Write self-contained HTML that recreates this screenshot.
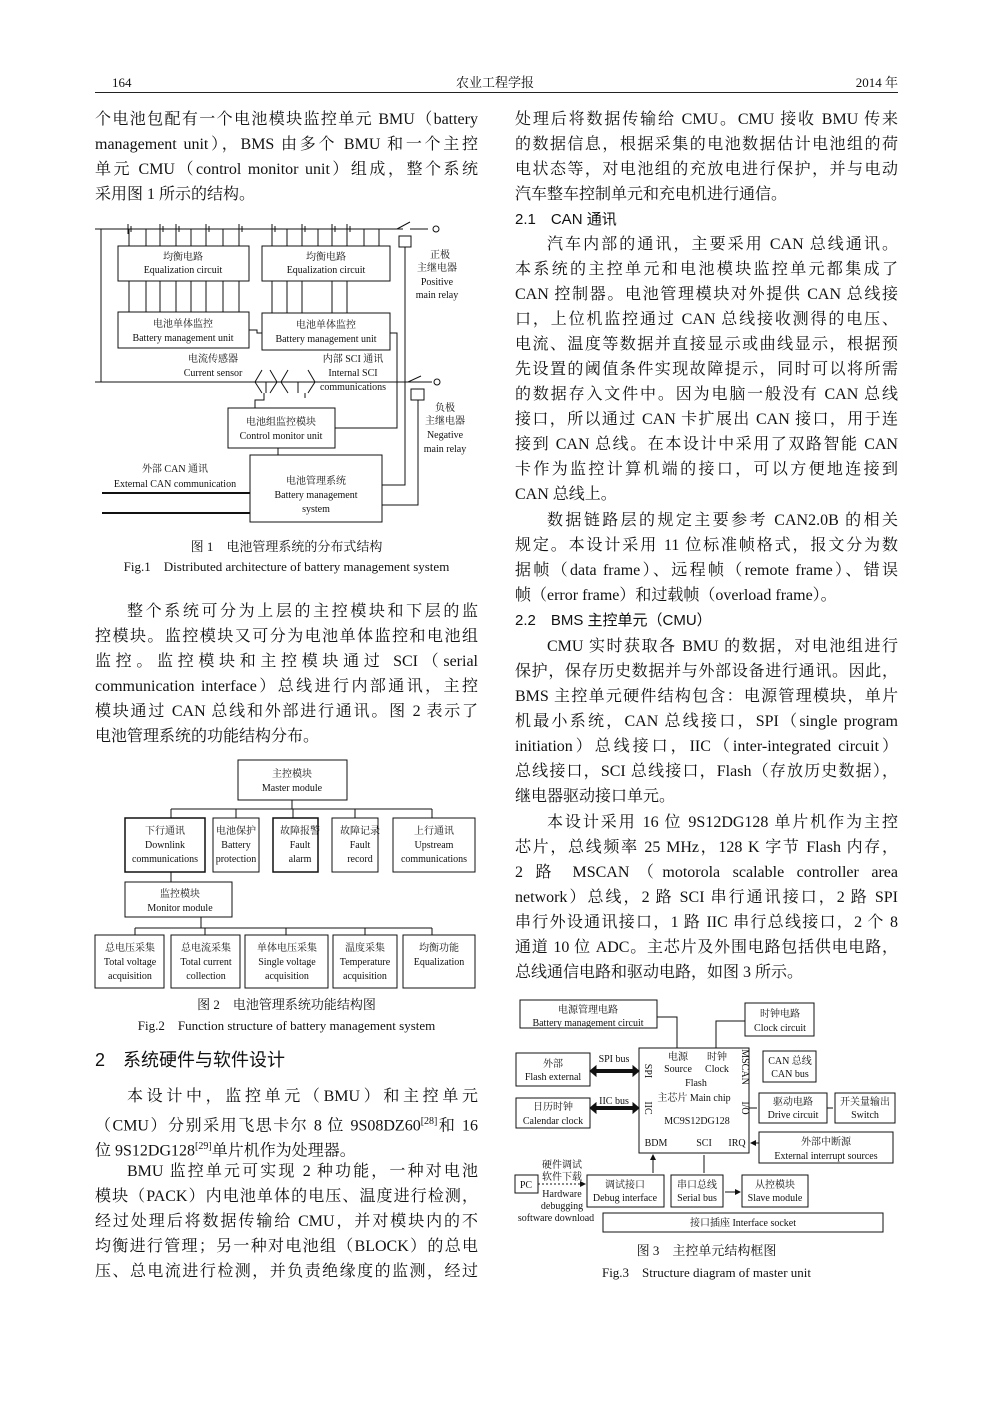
<!DOCTYPE html>
<html><head><meta charset="utf-8">
<style>
html,body{margin:0;padding:0;background:#fff;}
body{width:992px;height:1403px;position:relative;overflow:hidden;font-family:"Liberation Serif","Noto Serif CJK SC",serif;color:#111;}
.l{position:absolute;font-size:16px;line-height:20px;height:20px;white-space:nowrap;}
.j{width:383px;text-align:justify;text-align-last:justify;}
.L{left:95px}.R{left:515px}
.cap{position:absolute;font-size:13px;line-height:16px;white-space:nowrap;text-align:center;}
svg{position:absolute;left:0;top:0;}
svg text{font-family:"Liberation Serif","Noto Serif CJK SC",serif;font-size:10px;fill:#111;text-anchor:middle;}
</style></head><body>
<div class="l" style="left:112px;top:73px;font-size:13px">164</div>
<div class="l" style="left:420px;top:73px;font-size:13px;width:150px;text-align:center">农业工程学报</div>
<div class="l" style="left:820px;top:73px;font-size:13px;width:78px;text-align:right">2014 年</div>
<div style="position:absolute;left:95px;top:92px;width:803px;height:1px;background:#222"></div>

<div class="l L j" style="top:110px">个电池包配有一个电池模块监控单元 BMU（battery</div>
<div class="l L j" style="top:135px">management unit），BMS 由多个 BMU 和一个主控</div>
<div class="l L j" style="top:160px">单元 CMU（control monitor unit）组成，整个系统</div>
<div class="l L" style="top:185px">采用图 1 所示的结构。</div>
<div class="cap" style="left:95px;width:383px;top:539px">图 1　电池管理系统的分布式结构</div>
<div class="cap" style="left:95px;width:383px;top:559px">Fig.1　Distributed architecture of battery management system</div>
<div class="l L j" style="top:602px;padding-left:32px;width:351px">整个系统可分为上层的主控模块和下层的监</div>
<div class="l L j" style="top:627px">控模块。监控模块又可分为电池单体监控和电池组</div>
<div class="l L j" style="top:652px">监控。监控模块和主控模块通过 SCI（serial</div>
<div class="l L j" style="top:677px">communication interface）总线进行内部通讯，主控</div>
<div class="l L j" style="top:702px">模块通过 CAN 总线和外部进行通讯。图 2 表示了</div>
<div class="l L" style="top:727px">电池管理系统的功能结构分布。</div>
<div class="cap" style="left:95px;width:383px;top:997px">图 2　电池管理系统功能结构图</div>
<div class="cap" style="left:95px;width:383px;top:1018px">Fig.2　Function structure of battery management system</div>
<div class="l L" style="top:1049px;font-size:18px;line-height:22px;font-family:'Liberation Sans','Noto Sans CJK SC',sans-serif">2　系统硬件与软件设计</div>
<div class="l L j" style="top:1087px;padding-left:32px;width:351px">本设计中，监控单元（BMU）和主控单元</div>
<div class="l L j" style="top:1112px">（CMU）分别采用飞思卡尔 8 位 9S08DZ60<sup style="font-size:10px">[28]</sup>和 16</div>
<div class="l L" style="top:1137px">位 9S12DG128<sup style="font-size:10px">[29]</sup>单片机作为处理器。</div>
<div class="l L j" style="top:1162px;padding-left:32px;width:351px">BMU 监控单元可实现 2 种功能，一种对电池</div>
<div class="l L j" style="top:1187px">模块（PACK）内电池单体的电压、温度进行检测，</div>
<div class="l L j" style="top:1212px">经过处理后将数据传输给 CMU，并对模块内的不</div>
<div class="l L j" style="top:1237px">均衡进行管理；另一种对电池组（BLOCK）的总电</div>
<div class="l L j" style="top:1262px">压、总电流进行检测，并负责绝缘度的监测，经过</div>

<div class="l R j" style="top:110px">处理后将数据传输给 CMU。CMU 接收 BMU 传来</div>
<div class="l R j" style="top:135px">的数据信息，根据采集的电池数据估计电池组的荷</div>
<div class="l R j" style="top:160px">电状态等，对电池组的充放电进行保护，并与电动</div>
<div class="l R" style="top:185px">汽车整车控制单元和充电机进行通信。</div>
<div class="l R" style="top:210px;font-family:'Liberation Sans','Noto Sans CJK SC',sans-serif;font-size:15px">2.1　CAN 通讯</div>
<div class="l R j" style="top:235px;padding-left:32px;width:351px">汽车内部的通讯，主要采用 CAN 总线通讯。</div>
<div class="l R j" style="top:260px">本系统的主控单元和电池模块监控单元都集成了</div>
<div class="l R j" style="top:285px">CAN 控制器。电池管理模块对外提供 CAN 总线接</div>
<div class="l R j" style="top:310px">口，上位机监控通过 CAN 总线接收测得的电压、</div>
<div class="l R j" style="top:335px">电流、温度等数据并直接显示或曲线显示，根据预</div>
<div class="l R j" style="top:360px">先设置的阈值条件实现故障提示，同时可以将所需</div>
<div class="l R j" style="top:385px">的数据存入文件中。因为电脑一般没有 CAN 总线</div>
<div class="l R j" style="top:410px">接口，所以通过 CAN 卡扩展出 CAN 接口，用于连</div>
<div class="l R j" style="top:435px">接到 CAN 总线。在本设计中采用了双路智能 CAN</div>
<div class="l R j" style="top:460px">卡作为监控计算机端的接口，可以方便地连接到</div>
<div class="l R" style="top:485px">CAN 总线上。</div>
<div class="l R j" style="top:511px;padding-left:32px;width:351px">数据链路层的规定主要参考 CAN2.0B 的相关</div>
<div class="l R j" style="top:536px">规定。本设计采用 11 位标准帧格式，报文分为数</div>
<div class="l R j" style="top:561px">据帧（data frame）、远程帧（remote frame）、错误</div>
<div class="l R" style="top:586px">帧（error frame）和过载帧（overload frame）。</div>
<div class="l R" style="top:611px;font-family:'Liberation Sans','Noto Sans CJK SC',sans-serif;font-size:15px">2.2　BMS 主控单元（CMU）</div>
<div class="l R j" style="top:637px;padding-left:32px;width:351px">CMU 实时获取各 BMU 的数据，对电池组进行</div>
<div class="l R j" style="top:662px">保护，保存历史数据并与外部设备进行通讯。因此，</div>
<div class="l R j" style="top:687px">BMS 主控单元硬件结构包含：电源管理模块，单片</div>
<div class="l R j" style="top:712px">机最小系统，CAN 总线接口，SPI（single program</div>
<div class="l R j" style="top:737px">initiation）总线接口，IIC（inter-integrated circuit）</div>
<div class="l R j" style="top:762px">总线接口，SCI 总线接口，Flash（存放历史数据），</div>
<div class="l R" style="top:787px">继电器驱动接口单元。</div>
<div class="l R j" style="top:813px;padding-left:32px;width:351px">本设计采用 16 位 9S12DG128 单片机作为主控</div>
<div class="l R j" style="top:838px">芯片，总线频率 25 MHz，128 K 字节 Flash 内存，</div>
<div class="l R j" style="top:863px">2 路 MSCAN（motorola scalable controller area</div>
<div class="l R j" style="top:888px">network）总线，2 路 SCI 串行通讯接口，2 路 SPI</div>
<div class="l R j" style="top:913px">串行外设通讯接口，1 路 IIC 串行总线接口，2 个 8</div>
<div class="l R j" style="top:938px">通道 10 位 ADC。主芯片及外围电路包括供电电路，</div>
<div class="l R" style="top:963px">总线通信电路和驱动电路，如图 3 所示。</div>
<div class="cap" style="left:515px;width:383px;top:1243px">图 3　主控单元结构框图</div>
<div class="cap" style="left:515px;width:383px;top:1265px">Fig.3　Structure diagram of master unit</div>

<svg width="992" height="1403" viewBox="0 0 992 1403">
<defs>
<marker id="a" markerWidth="6" markerHeight="6" refX="5" refY="3" orient="auto"><path d="M0,0L6,3L0,6z" fill="#111"/></marker>
<marker id="b" markerWidth="6" markerHeight="6" refX="1" refY="3" orient="auto"><path d="M6,0L0,3L6,6z" fill="#111"/></marker>
</defs>
<g stroke="#111" stroke-width="1" fill="none">
<!-- FIG 1 -->
<path d="M95,229H403M101,229V382M95,382H430"/>
<path d="M128,224V234M131,226V232M160,224V234M163,226V232M176,224V234M179,226V232M206,224V234M209,226V232M239,224V234M242,226V232M272,224V234M275,226V232M302,224V234M305,226V232M332,224V234M335,226V232M347,224V234M350,226V232"/>
<rect x="118" y="246" width="131" height="35"/><rect x="262" y="246" width="128" height="35"/>
<rect x="118" y="312" width="131" height="36"/><rect x="262" y="313" width="128" height="37"/>
<path d="M129,229V246M146,229V246M160,229V246M176,229V246M191,229V246M206,229V246M223,229V246M239,229V246"/>
<path d="M129,281V312M146,281V312M160,281V312M176,281V312M191,281V312M206,281V312M223,281V312M239,281V312"/>
<path d="M272,229V246M287,229V246M302,229V246M318,229V246M332,229V246M347,229V246M364,229V246M379,229V246"/>
<path d="M272,281V313M287,281V313M302,281V313M332,281V313M347,281V313"/>
<path d="M249,330H257V333H262M390,333H397V428H335"/>
<path d="M262,370L255,382L262,393M270,370L277,382L270,393M266,382V393M288,370L281,382L288,393M308,370L315,382L308,393M298,382V393"/>
<path d="M264,393V400H255V408M305,393V398"/>
<rect x="228" y="408" width="107" height="40"/>
<path d="M278,448V455"/>
<rect x="250" y="455" width="132" height="67"/>
<path d="M382,485H405V247M382,505H418V400"/>
<rect x="399" y="236" width="12" height="11"/><path d="M397,229L410,222M410,229H428"/>
<rect x="411" y="389" width="13" height="11"/><path d="M408,382L421,376M421,382H432"/>
<circle cx="436" cy="229" r="3"/><circle cx="437" cy="382" r="3"/>
<path d="M102,493H250M102,513H250" stroke-width="2"/>
<!-- FIG 2 -->
<rect x="238" y="760" width="109" height="40"/>
<path d="M292,800V809M171,809H432M171,809V818M236,809V818M293,809V818M355,809V818M432,809V818"/>
<rect x="125" y="818" width="80" height="54" stroke-width="1.5"/>
<rect x="213" y="818" width="46" height="54"/><rect x="273" y="818" width="45" height="54" stroke-width="1.5"/>
<rect x="332" y="818" width="46" height="54"/><rect x="393" y="818" width="82" height="54"/>
<path d="M171,872V882"/>
<rect x="125" y="882" width="107" height="35"/>
<path d="M201,917V928M135,928H432M135,928V935M205,928V935M286,928V935M365,928V935M432,928V935"/>
<rect x="95" y="935" width="69" height="53"/><rect x="171" y="935" width="69" height="53"/>
<rect x="245" y="935" width="83" height="53"/><rect x="333" y="935" width="64" height="53"/><rect x="403" y="935" width="72" height="53"/>
<!-- FIG 3 -->
<rect x="520" y="1000" width="137" height="28"/><rect x="745" y="1003" width="69" height="33"/>
<rect x="639" y="1048" width="110" height="105"/>
<rect x="516" y="1053" width="74" height="33"/><rect x="516" y="1098" width="74" height="30"/>
<rect x="763" y="1051" width="53" height="31"/><rect x="759" y="1093" width="68" height="30"/>
<rect x="835" y="1093" width="60" height="30"/><rect x="759" y="1132" width="134" height="31"/>
<rect x="515" y="1175" width="23" height="18"/><rect x="587" y="1175" width="77" height="32"/>
<rect x="671" y="1175" width="52" height="32"/><rect x="742" y="1175" width="66" height="32"/>
<rect x="603" y="1213" width="280" height="19"/>
<path d="M657,1017H677V1048M745,1021H716V1048"/>
<path d="M594,1071H635M594,1108H635" stroke-width="4"/>
<path d="M590,1071l6,-5v10zM639,1071l-6,-5v10zM590,1108l6,-5v10zM639,1108l-6,-5v10z" fill="#111"/>
<path d="M749,1108H757M827,1108H833M759,1143H751" marker-end="url(#a)"/>
<path d="M653,1155V1173M704,1155V1173M725,1192H740" marker-start="url(#b)" marker-end="url(#a)"/>
<path d="M538,1184H585" stroke-dasharray="2,2" marker-end="url(#a)"/>
</g>
<!-- fig1 text -->
<text x="183" y="260">均衡电路</text><text x="183" y="273">Equalization circuit</text>
<text x="326" y="260">均衡电路</text><text x="326" y="273">Equalization circuit</text>
<text x="183" y="327">电池单体监控</text><text x="183" y="341">Battery management unit</text>
<text x="326" y="328">电池单体监控</text><text x="326" y="342">Battery management unit</text>
<text x="213" y="362">电流传感器</text><text x="213" y="376">Current sensor</text>
<text x="353" y="362">内部 SCI 通讯</text><text x="353" y="376">Internal SCI</text><text x="353" y="390">communications</text>
<text x="281" y="425">电池组监控模块</text><text x="281" y="439">Control monitor unit</text>
<text x="316" y="484">电池管理系统</text><text x="316" y="498">Battery management</text><text x="316" y="512">system</text>
<text x="175" y="472">外部 CAN 通讯</text><text x="175" y="487">External CAN communication</text>
<text x="440" y="258">正极</text><text x="437" y="271">主继电器</text><text x="437" y="285">Positive</text><text x="437" y="298">main relay</text>
<text x="445" y="411">负极</text><text x="445" y="424">主继电器</text><text x="445" y="438">Negative</text><text x="445" y="452">main relay</text>
<!-- fig2 text -->
<text x="292" y="777">主控模块</text><text x="292" y="791">Master module</text>
<text x="165" y="834">下行通讯</text><text x="165" y="848">Downlink</text><text x="165" y="862">communications</text>
<text x="236" y="834">电池保护</text><text x="236" y="848">Battery</text><text x="236" y="862">protection</text>
<text x="300" y="834">故障报警</text><text x="300" y="848">Fault</text><text x="300" y="862">alarm</text>
<text x="360" y="834">故障记录</text><text x="360" y="848">Fault</text><text x="360" y="862">record</text>
<text x="434" y="834">上行通讯</text><text x="434" y="848">Upstream</text><text x="434" y="862">communications</text>
<text x="180" y="897">监控模块</text><text x="180" y="911">Monitor module</text>
<text x="130" y="951">总电压采集</text><text x="130" y="965">Total voltage</text><text x="130" y="979">acquisition</text>
<text x="206" y="951">总电流采集</text><text x="206" y="965">Total current</text><text x="206" y="979">collection</text>
<text x="287" y="951">单体电压采集</text><text x="287" y="965">Single voltage</text><text x="287" y="979">acquisition</text>
<text x="365" y="951">温度采集</text><text x="365" y="965">Temperature</text><text x="365" y="979">acquisition</text>
<text x="439" y="951">均衡功能</text><text x="439" y="965">Equalization</text>
<!-- fig3 text -->
<text x="588" y="1013">电源管理电路</text><text x="588" y="1026">Battery management circuit</text>
<text x="780" y="1017">时钟电路</text><text x="780" y="1031">Clock circuit</text>
<text x="553" y="1067">外部</text><text x="553" y="1080">Flash external</text>
<text x="553" y="1110">日历时钟</text><text x="553" y="1124">Calendar clock</text>
<text x="614" y="1062">SPI bus</text><text x="614" y="1104">IIC bus</text>
<text x="678" y="1060">电源</text><text x="678" y="1072">Source</text>
<text x="717" y="1060">时钟</text><text x="717" y="1072">Clock</text>
<text x="696" y="1086">Flash</text><text x="694" y="1101">主芯片 Main chip</text><text x="697" y="1124">MC9S12DG128</text>
<text x="656" y="1146">BDM</text><text x="704" y="1146">SCI</text><text x="737" y="1146">IRQ</text>
<text transform="translate(645,1071) rotate(90)">SPI</text>
<text transform="translate(645,1108) rotate(90)">IIC</text>
<text transform="translate(742,1067) rotate(90)">MSCAN</text>
<text transform="translate(742,1108) rotate(90)">I/O</text>
<text x="790" y="1064">CAN 总线</text><text x="790" y="1077">CAN bus</text>
<text x="793" y="1105">驱动电路</text><text x="793" y="1118">Drive circuit</text>
<text x="865" y="1105">开关量输出</text><text x="865" y="1118">Switch</text>
<text x="826" y="1145">外部中断源</text><text x="826" y="1159">External interrupt sources</text>
<text x="526" y="1188">PC</text>
<text x="562" y="1168">硬件调试</text><text x="562" y="1180">软件下载</text>
<text x="562" y="1197">Hardware</text><text x="562" y="1209">debugging</text><text x="556" y="1221">software download</text>
<text x="625" y="1188">调试接口</text><text x="625" y="1201">Debug interface</text>
<text x="697" y="1188">串口总线</text><text x="697" y="1201">Serial bus</text>
<text x="775" y="1188">从控模块</text><text x="775" y="1201">Slave module</text>
<text x="743" y="1226">接口插座 Interface socket</text>
</svg>
</body></html>
